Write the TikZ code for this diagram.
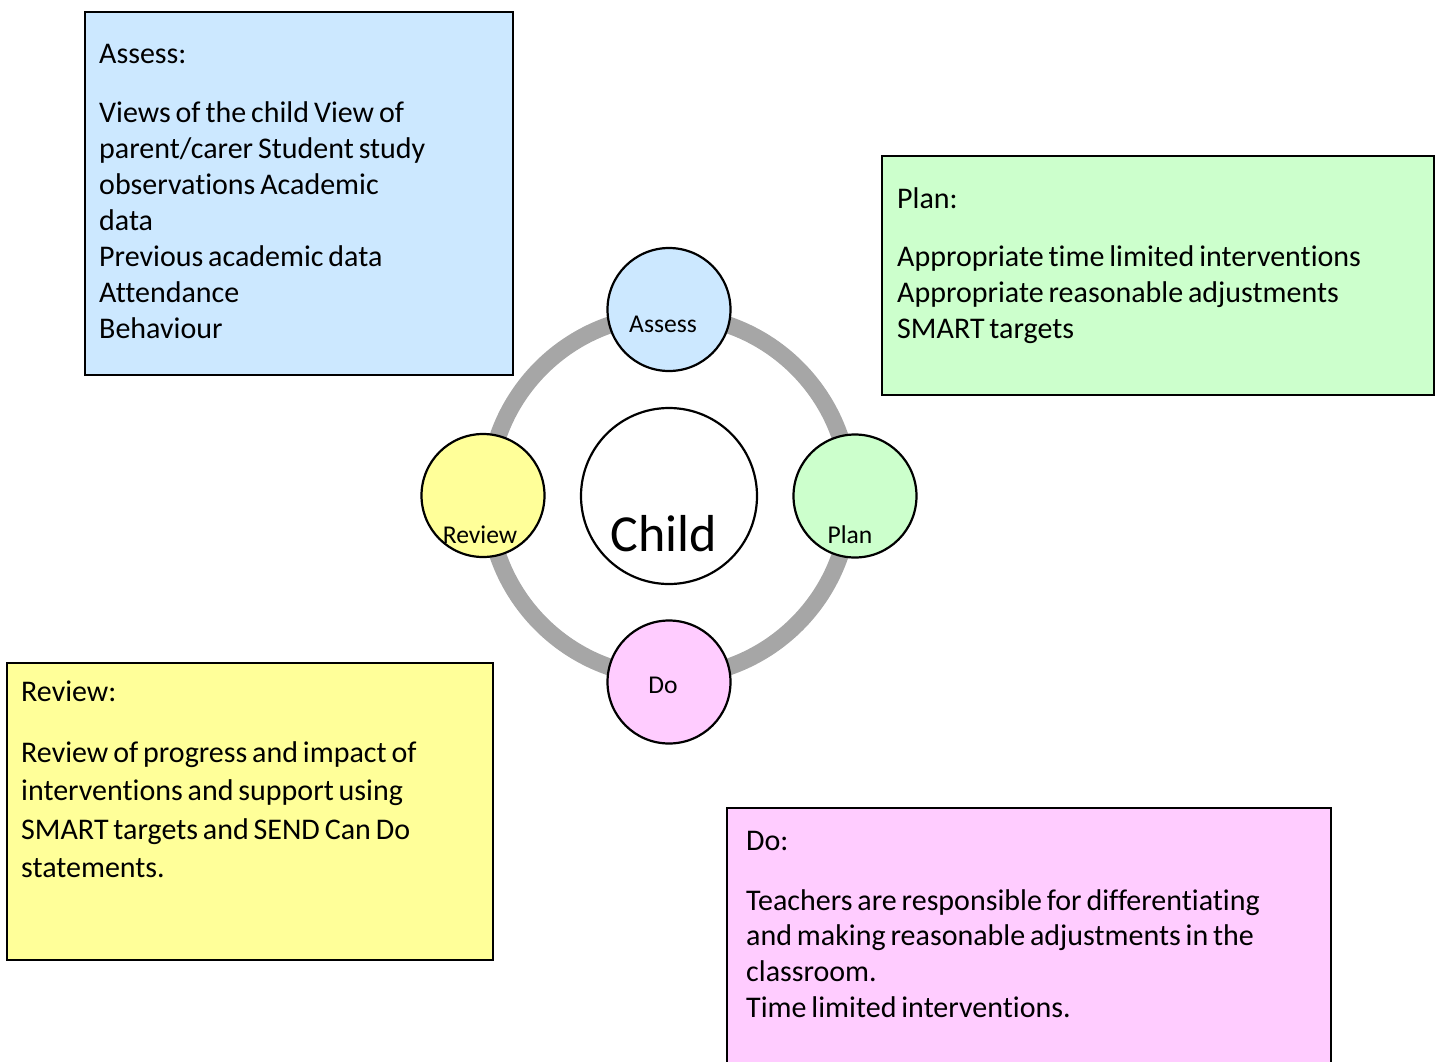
\documentclass[tikz,border=0pt]{standalone}
\usepackage{fontspec}
\setmainfont{Carlito}[Ligatures=NoCommon]
\definecolor{assessfill}{HTML}{CCE8FF}
\definecolor{planfill}{HTML}{CCFFCC}
\definecolor{reviewfill}{HTML}{FFFF99}
\definecolor{dofill}{HTML}{FFCCFF}
\definecolor{ringgray}{HTML}{A6A6A6}
\newcommand\tightspaces{\spaceskip=4.9pt plus 1pt\relax}
\tikzset{
  infobox/.style={draw=black, line width=1.5pt, anchor=north west, inner sep=0pt},
  boxtext/.style={anchor=base west, inner sep=0pt, text width=560pt, align=left, font=\fontsize{30}{36}\selectfont, execute at begin node=\tightspaces},
  stage/.style={circle, draw=black, line width=2.2pt, minimum size=123pt, inner sep=0pt},
  stagelabel/.style={anchor=base, inner sep=0pt, font=\fontsize{25.6}{30}\selectfont},
  ring/.style={draw=ringgray, line width=17pt}
}
\begin{document}
\begin{tikzpicture}[x=1pt, y=-1pt]
\useasboundingbox (0,0) rectangle (1442,1061);
\clip (0,0) rectangle (1442,1061);

% information boxes
\node[infobox, fill=assessfill, minimum width=428pt, minimum height=363pt] (assessbox) at (84,11) {};
\node[infobox, fill=planfill, minimum width=552pt, minimum height=239pt] (planbox) at (881,155) {};
\node[infobox, fill=reviewfill, minimum width=486pt, minimum height=297pt] (reviewbox) at (6,662) {};
\node[infobox, fill=dofill, minimum width=604pt, minimum height=300pt] (dobox) at (726,807) {};

\node[boxtext] (assesstext) at (99,63.3) {Assess:\\[23pt]
Views of the child View of\\
parent/carer Student study\\
observations Academic\\
data\\
Previous academic data\\
Attendance\\
Behaviour};

\node[boxtext] (plantext) at (897,208.3) {Plan:\\[22.4pt]
Appropriate time limited interventions\\
Appropriate reasonable adjustments\\
SMART targets};

\node[boxtext, font=\fontsize{30}{38.5}\selectfont] (reviewtext) at (21,701) {Review:\\[22.5pt]
Review of progress and impact of\\
interventions and support using\\
SMART targets and SEND Can Do\\
statements.};

\node[boxtext, font=\fontsize{30}{35.7}\selectfont] (dotext) at (746,850) {Do:\\[24.3pt]
Teachers are responsible for differentiating\\
and making reasonable adjustments in the\\
classroom.\\
Time limited interventions.};

% cycle
\coordinate (centre) at (669,496);
\draw[ring] (centre) circle[radius=181];

\node[circle, draw=black, line width=2.2pt, fill=white, minimum size=176pt, inner sep=0pt] (child) at (centre) {};
\node[anchor=base, inner sep=0pt, font=\fontsize{52}{60}\selectfont] (childlabel) at (663.5,551) {Child};

\node[stage, fill=assessfill] (assess) at (669,309.5) {};
\node[stage, fill=planfill] (plan) at (855,496) {};
\node[stage, fill=dofill] (do) at (669,682) {};
\node[stage, fill=reviewfill] (review) at (483,495.5) {};

\node[stagelabel] (assesslabel) at (663,332) {Assess};
\node[stagelabel] (planlabel) at (850,543) {Plan};
\node[stagelabel] (dolabel) at (663,693) {Do};
\node[stagelabel] (reviewlabel) at (480,543) {Review};
\end{tikzpicture}
\end{document}
